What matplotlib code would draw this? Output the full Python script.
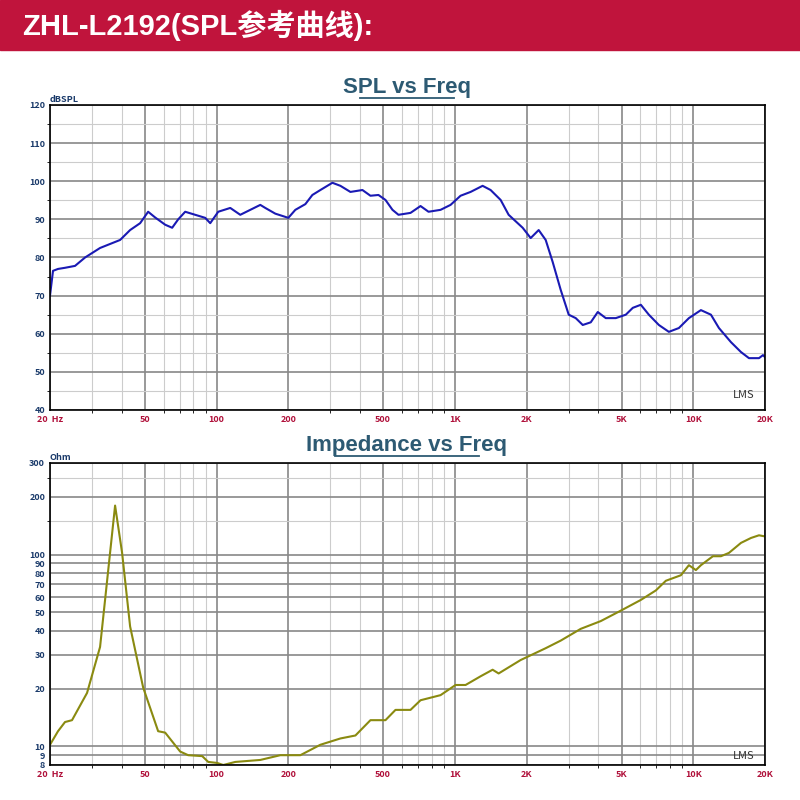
import numpy as np
import matplotlib
matplotlib.use("Agg")
import matplotlib.pyplot as plt
from matplotlib.ticker import FixedLocator, NullFormatter

plt.rcParams['font.family'] = ['Noto Sans CJK SC', 'DejaVu Sans']

def px2f(x): return 20*10**((np.array(x)-50)/238.0)
spl_x = [50,53,58,65,75,85,100,120,130,140,148,155,165,172,178,185,195,205,210,218,230,240,250,260,265,275,288,295,305,312,320,332,340,350,362,370,378,385,392,398,410,420,428,440,450,460,470,482,490,500,508,515,522,530,538,545,552,560,568,575,582,590,597,605,615,625,632,640,648,658,668,678,688,700,710,718,730,740,748,758,762,765]
spl_freq = px2f(spl_x)
spl_db = [70,76.5,77,77.3,77.8,80,82.5,84.6,87.2,89,92,90.5,88.6,87.8,90,92,91.2,90.4,89,92,93,91.2,92.5,93.8,93,91.5,90.4,92.5,94,96.4,97.7,99.6,98.8,97.2,97.7,96.2,96.4,95.1,92.5,91.2,91.7,93.5,92,92.5,93.8,96.2,97.2,98.8,97.7,95.1,91.2,89.5,87.8,85.1,87.2,84.6,78.8,71.5,65,64.1,62.3,63,65.7,64.1,64.1,65,66.8,67.6,65,62.3,60.5,61.5,64.1,66.2,65,61.5,57.8,55.2,53.6,53.6,54.4,53.6]

imp_x = [50,58,65,72,87,100,115,122,130,143,158,165,180,188,202,208,217,223,235,260,280,300,320,340,355,370,385,395,410,420,440,455,465,480,492,498,520,545,560,580,600,620,640,655,665,680,688,695,700,712,720,728,740,750,758,765]
imp_freq = px2f(imp_x)
imp_ohm = [10.2,12.0,13.4,13.7,19.0,33,180,102,42.2,20.3,12,11.8,9.4,9.0,8.9,8.3,8.2,8.0,8.3,8.5,9.0,9.0,10.2,11.0,11.4,13.7,13.7,15.5,15.5,17.4,18.5,20.9,20.9,23.2,25.1,24,28.2,32.5,35.6,41,45,51,58,65,73,78,88,83,88,98,98,102,115,122,126,124]

xt = [20,50,100,200,500,1000,2000,5000,10000,20000]
xtl = ['20  Hz','50','100','200','500','1K','2K','5K','10K','20K']
minor = [f*m for f in [10,100,1000,10000] for m in range(2,10) if 20 <= f*m <= 20000]

fig = plt.figure(figsize=(8,8), dpi=100)
fig.patch.set_facecolor('white')
fig.add_artist(plt.Rectangle((0,1-50/800),1,50/800, transform=fig.transFigure, color='#c0143c'))
fig.text(22/800, 1-25/800, 'ZHL-L2192(SPL参考曲线):', color='white', fontsize=21, fontweight='bold',
         va='center', family=['Liberation Sans', 'Noto Sans CJK SC'])

def style(ax, title, ytitle):
    ax.set_xscale('log'); ax.set_xlim(20,20000)
    ax.xaxis.set_major_locator(FixedLocator(xt))
    ax.set_xticklabels(xtl)
    ax.xaxis.set_minor_locator(FixedLocator(minor))
    ax.xaxis.set_minor_formatter(NullFormatter())
    ax.grid(True, which='major', color='#888888', lw=1.2)
    ax.grid(True, which='minor', color='#cccccc', lw=0.8)
    ax.tick_params(length=0, labelsize=6.5)
    for l in ax.get_xticklabels(): l.set_color('#b0103a'); l.set_fontweight('bold')
    for l in ax.get_yticklabels(): l.set_color('#1a3a6a'); l.set_fontweight('bold')
    for s in ax.spines.values(): s.set_linewidth(1.2)
    fig.text(407/800, ytitle, title, color='#2d5a73', fontsize=16, fontweight='bold',
             ha='center', va='center', family='Liberation Sans')
    w = len(title)*0.0106
    fig.add_artist(plt.Line2D([407/800-w/2*1.0, 407/800+w/2*1.0], [ytitle-0.014]*2,
                              color='#2d5a73', lw=1.3, transform=fig.transFigure))

ax1 = fig.add_axes([50/800, 1-410/800, 715/800, 305/800])
ax1.plot(spl_freq, spl_db, color='#1a1ab4', lw=1.5)
ax1.set_ylim(40,120)
ax1.set_yticks(range(40,121,10))
ax1.yaxis.set_minor_locator(FixedLocator(range(45,120,5)))
style(ax1, 'SPL vs Freq', 1-87/800)
ax1.text(0, 1.01, 'dBSPL', transform=ax1.transAxes, fontsize=6.5, color='#1a3a6a', fontweight='bold')
ax1.text(0.955, 0.04, 'LMS', transform=ax1.transAxes, fontsize=8, style='italic', color='#333333')

ax2 = fig.add_axes([50/800, 1-765/800, 715/800, 302/800])
ax2.plot(imp_freq, imp_ohm, color='#8a8a10', lw=1.5)
ax2.set_yscale('log'); ax2.set_ylim(8,300)
yt = [8,9,10,20,30,40,50,60,70,80,90,100,200,300]
ax2.yaxis.set_major_locator(FixedLocator(yt))
ax2.set_yticklabels([str(v) for v in yt])
ax2.yaxis.set_minor_locator(FixedLocator([150,250]))
ax2.yaxis.set_minor_formatter(NullFormatter())
style(ax2, 'Impedance vs Freq', 1-445/800)
ax2.text(0, 1.01, 'Ohm', transform=ax2.transAxes, fontsize=6.5, color='#1a3a6a', fontweight='bold')
ax2.text(0.955, 0.02, 'LMS', transform=ax2.transAxes, fontsize=8, style='italic', color='#333333')

fig.savefig('out.png', dpi=100)
